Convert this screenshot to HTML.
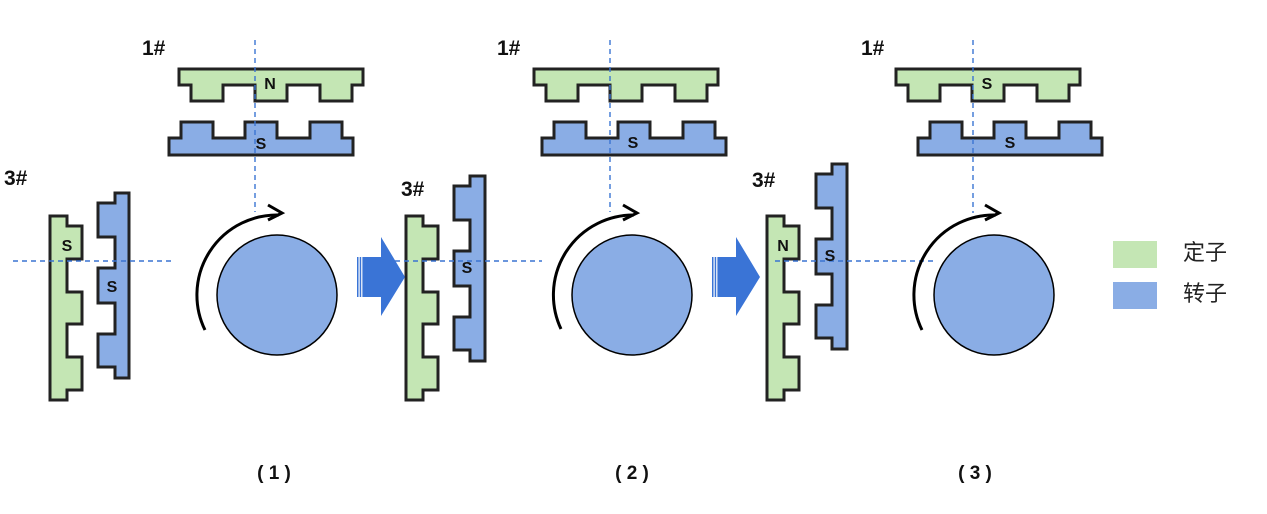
<!DOCTYPE html>
<html>
<head>
<meta charset="utf-8">
<style>
  html,body{margin:0;padding:0;background:#fff;}
  svg{display:block;}
  .g{fill:#c4e6b4;stroke:#222;stroke-width:3;stroke-linejoin:miter;}
  .b{fill:#8aade5;stroke:#222;stroke-width:3;stroke-linejoin:miter;}
  .d{stroke:#3a74d2;stroke-width:1.4;stroke-dasharray:5 4;fill:none;}
  .t{font-family:"Liberation Sans",Arial,sans-serif;font-weight:bold;fill:#111;}
  .l{font-size:16px;text-anchor:middle;}
  .h{font-size:21px;}
  .arc{fill:none;stroke:#000;stroke-width:3;}
  .ar{fill:#3a74d6;}
  .cj{font-family:"Liberation Sans","Noto Sans CJK SC",sans-serif;font-size:22px;fill:#222;}
</style>
</head>
<body>
<svg width="1267" height="514" viewBox="0 0 1267 514" xmlns="http://www.w3.org/2000/svg">
  <!-- Panel 1 -->
  <polygon class="g" points="179,69 363,69 363,85 352,85 352,101 320,101 320,85 287,85 287,101 255,101 255,85 223,85 223,101 191,101 191,85 179,85"/>
  <polygon class="b" points="169,155 353,155 353,138 342,138 342,122 310,122 310,138 277,138 277,122 245,122 245,138 213,138 213,122 181,122 181,138 169,138"/>
  <polygon class="g" points="50,216 67,216 67,226 82,226 82,259 67,259 67,292 82,292 82,324 67,324 67,357 82,357 82,390 67,390 67,400 50,400"/>
  <polygon class="b" points="115,193 129,193 129,378 115,378 115,367 98,367 98,334 115,334 115,303 98,303 98,268 115,268 115,237 98,237 98,203 115,203"/>
  <circle cx="277" cy="295" r="60" fill="#8aade5" stroke="#000" stroke-width="1.5"/>
  <line class="d" x1="255" y1="40" x2="255" y2="212"/>
  <line class="d" x1="13" y1="261" x2="173" y2="261"/>
  <path class="arc" d="M205,330 A80,80 0 0 1 279,215"/>
  <polyline class="arc" points="268,205 282,213 268,220"/>

  <!-- Panel 2 -->
  <polygon class="g" points="534,69 718,69 718,85 707,85 707,101 675,101 675,85 642,85 642,101 610,101 610,85 578,85 578,101 546,101 546,85 534,85"/>
  <polygon class="b" points="542,155 726,155 726,138 715,138 715,122 683,122 683,138 650,138 650,122 618,122 618,138 586,138 586,122 554,122 554,138 542,138"/>
  <polygon class="g" points="406,216 423,216 423,226 438,226 438,259 423,259 423,292 438,292 438,324 423,324 423,357 438,357 438,390 423,390 423,400 406,400"/>
  <polygon class="b" points="470,176 485,176 485,361 470,361 470,350 454,350 454,317 470,317 470,286 454,286 454,251 470,251 470,220 454,220 454,186 470,186"/>
  <circle cx="632" cy="295" r="60" fill="#8aade5" stroke="#000" stroke-width="1.5"/>
  <line class="d" x1="610" y1="40" x2="610" y2="212"/>
  <line class="d" x1="395" y1="261" x2="542" y2="261"/>
  <path class="arc" d="M561,329 A80,80 0 0 1 634,215"/>
  <polyline class="arc" points="623,205 637,213 623,220"/>

  <!-- Panel 3 -->
  <polygon class="g" points="896,69 1080,69 1080,85 1069,85 1069,101 1037,101 1037,85 1004,85 1004,101 972,101 972,85 940,85 940,101 908,101 908,85 896,85"/>
  <polygon class="b" points="918,155 1102,155 1102,138 1091,138 1091,122 1059,122 1059,138 1026,138 1026,122 994,122 994,138 962,138 962,122 930,122 930,138 918,138"/>
  <polygon class="g" points="767,216 784,216 784,226 799,226 799,259 784,259 784,292 799,292 799,324 784,324 784,357 799,357 799,390 784,390 784,400 767,400"/>
  <polygon class="b" points="832,164 847,164 847,349 832,349 832,338 816,338 816,305 832,305 832,274 816,274 816,239 832,239 832,208 816,208 816,174 832,174"/>
  <circle cx="994" cy="295" r="60" fill="#8aade5" stroke="#000" stroke-width="1.5"/>
  <line class="d" x1="973" y1="40" x2="973" y2="213"/>
  <line class="d" x1="775" y1="261" x2="935" y2="261"/>
  <path class="arc" d="M922,330 A80,80 0 0 1 996,215"/>
  <polyline class="arc" points="985,205 999,213 985,220"/>

  <!-- Big arrows -->
  <g class="ar">
    <rect x="357" y="257" width="1.5" height="40"/>
    <rect x="359.7" y="257" width="1.5" height="40"/>
    <rect x="362.4" y="257" width="1.6" height="40"/>
    <polygon points="364,257 381,257 381,237 405,277 381,316 381,297 364,297"/>
  </g>
  <g class="ar">
    <rect x="712" y="257" width="1.5" height="40"/>
    <rect x="714.7" y="257" width="1.5" height="40"/>
    <rect x="717.4" y="257" width="1.6" height="40"/>
    <polygon points="719,257 736,257 736,237 760,277 736,316 736,297 719,297"/>
  </g>

  <!-- pole labels -->
  <text class="t l" x="270" y="89">N</text>
  <text class="t l" x="261" y="149">S</text>
  <text class="t l" x="67" y="251">S</text>
  <text class="t l" x="112" y="292">S</text>

  <text class="t l" x="633" y="148">S</text>
  <text class="t l" x="467" y="273">S</text>

  <text class="t l" x="987" y="89">S</text>
  <text class="t l" x="1010" y="148">S</text>
  <text class="t l" x="783" y="251">N</text>
  <text class="t l" x="830" y="261">S</text>

  <!-- # labels -->
  <text class="t h" x="142" y="55">1#</text>
  <text class="t h" x="497" y="55">1#</text>
  <text class="t h" x="861" y="55">1#</text>
  <text class="t h" x="4" y="185">3#</text>
  <text class="t h" x="401" y="196">3#</text>
  <text class="t h" x="752" y="187">3#</text>

  <!-- bottom labels -->
  <text class="t" x="274" y="479" font-size="19" text-anchor="middle">( 1 )</text>
  <text class="t" x="632" y="479" font-size="19" text-anchor="middle">( 2 )</text>
  <text class="t" x="975" y="479" font-size="19" text-anchor="middle">( 3 )</text>

  <!-- legend -->
  <rect x="1113" y="241" width="44" height="27" fill="#c4e6b4"/>
  <rect x="1113" y="282" width="44" height="27" fill="#8aade5"/>
  <text class="cj" x="1183" y="260">定子</text>
  <text class="cj" x="1183" y="301">转子</text>
</svg>
</body>
</html>
